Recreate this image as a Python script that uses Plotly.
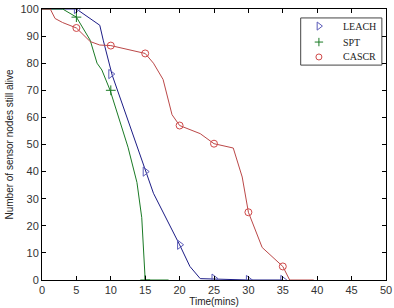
import plotly.graph_objects as go

# LEACH
leach_x = [0, 3, 5, 8.4, 8.9, 10.2, 14, 15, 16.2, 20, 21.5, 23, 25, 30, 35]
leach_y = [100, 100, 100, 94, 88.5, 75.6, 48, 40, 32, 13, 5, 0.5, 0.3, 0, 0]
leach_mx = [5, 10, 15, 20, 25, 30, 35]
leach_my = [100, 76, 40, 13, 0.5, 0, 0]

# SPT
spt_x = [0, 3, 5, 7, 8, 8.7, 9.9, 12.5, 13.8, 14.5, 15, 18.4]
spt_y = [100, 100, 97, 88.5, 80, 77.5, 70, 49, 36, 23, 0, 0]
spt_mx = [5, 10, 15]
spt_my = [97, 70, 0]

# CASCR
cascr_x = [0, 1.2, 1.9, 3, 5, 7, 8.4, 10, 15, 16.2, 17.6, 18.9, 20, 23, 25, 27.8, 29.1, 30, 32, 35, 36, 39.5]
cascr_y = [100, 100, 96.5, 95, 93, 88, 86.7, 86.5, 83.6, 80, 74, 61, 57, 54, 50.3, 48.7, 38, 25, 12, 5, 0, 0]
cascr_mx = [5, 10, 15, 20, 25, 30, 35]
cascr_my = [93, 86.5, 83.6, 57, 50.3, 25, 5]

x_ticks = [0, 5, 10, 15, 20, 25, 30, 35, 40, 45, 50]
y_ticks = [0, 10, 20, 30, 40, 50, 60, 70, 80, 90, 100]

series_names = ["LEACH", "SPT", "CASCR"]
line_colors = ["#1c1c86", "#1a7a25", "#bb4848"]
marker_colors = ["#5a5ab8", "#1a7a25", "#d04848"]
marker_symbols = ["triangle-right-open", "cross-thin-open", "circle-open"]
marker_sizes = [8, 7, 7]

fig = go.Figure()
for xs, ys, c in [(leach_x, leach_y, line_colors[0]), (spt_x, spt_y, line_colors[1]), (cascr_x, cascr_y, line_colors[2])]:
    fig.add_trace(go.Scatter(x=xs, y=ys, mode="lines", line=dict(color=c, width=1), showlegend=False, hoverinfo="skip"))

for i, (mx, my) in enumerate([(leach_mx, leach_my), (spt_mx, spt_my), (cascr_mx, cascr_my)]):
    fig.add_trace(go.Scatter(x=mx, y=my, mode="markers", name=series_names[i], showlegend=False,
                             marker=dict(symbol=marker_symbols[i], size=marker_sizes[i], color=marker_colors[i], line=dict(width=1))))

# Manual legend (MATLAB-style box)
leg_x0, leg_x1, leg_y0, leg_y1 = 0.752, 0.988, 0.793, 0.967
leg_marker_x = 0.805
leg_text_x = 0.869
leg_rows = [0.937, 0.878, 0.823]

fig.add_shape(type="rect", xref="paper", yref="paper", x0=leg_x0, x1=leg_x1, y0=leg_y0, y1=leg_y1,
              line=dict(color="#444", width=1), fillcolor="white", layer="below")
for i, name in enumerate(series_names):
    fig.add_trace(go.Scatter(x=[leg_marker_x], y=[leg_rows[i]], xaxis="x2", yaxis="y2", mode="markers",
                             showlegend=False, hoverinfo="skip",
                             marker=dict(symbol=marker_symbols[i], size=marker_sizes[i] - 1, color=marker_colors[i], line=dict(width=1))))
    fig.add_annotation(x=leg_text_x, y=leg_rows[i], xref="paper", yref="paper", text=name, showarrow=False,
                       xanchor="left", yanchor="middle",
                       font=dict(family="Liberation Serif, Times New Roman", size=10, color="#222"))

axis_common = dict(showline=True, linecolor="black", linewidth=1, mirror="ticks",
                   ticks="inside", ticklen=4, tickcolor="black", showgrid=False, zeroline=False,
                   automargin=False,
                   tickfont=dict(family="Liberation Sans, Arial", size=11, color="#333"))

fig.update_xaxes(range=[0, 50], tickvals=x_ticks, ticktext=[str(v) for v in x_ticks],
                 title=dict(text="Time(mins)", font=dict(family="Liberation Sans, Arial", size=10, color="#222"), standoff=2),
                 **axis_common)
fig.update_yaxes(range=[0, 100], tickvals=y_ticks, ticktext=[str(v) for v in y_ticks],
                 title=dict(text="Number of sensor nodes still alive", font=dict(family="Liberation Sans, Arial", size=10, color="#222"), standoff=4),
                 **axis_common)

fig.update_layout(
    width=394, height=308,
    margin=dict(l=42, r=8, t=9, b=28),
    paper_bgcolor="white", plot_bgcolor="white",
    showlegend=False,
    xaxis2=dict(overlaying="x", range=[0, 1], visible=False, fixedrange=True),
    yaxis2=dict(overlaying="y", range=[0, 1], visible=False, fixedrange=True),
)

fig.write_html("out.html")
